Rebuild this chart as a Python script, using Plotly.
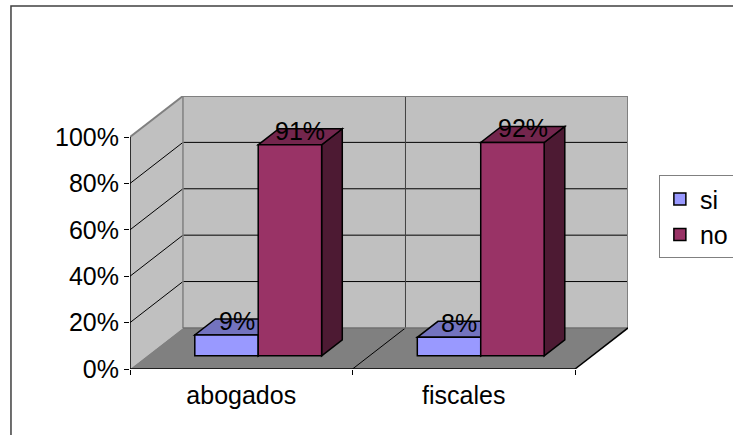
import plotly.graph_objects as go

categories = ["abogados", "fiscales"]
series_names = ["si", "no"]
si_values = [0.09, 0.08]
no_values = [0.91, 0.92]
y_ticks = [0, 0.2, 0.4, 0.6, 0.8, 1.0]

# 3D projection settings (data units)
DX, DY = 0.238, 0.177          # full depth offset of the back wall
FRONT, BACK = 0.32, 0.71       # bar depth span as fraction of full depth
BW = 0.285                      # bar width
FONT = dict(family="Arial, Liberation Sans, sans-serif", size=25, color="black")

front_col = {"si": "#9999FF", "no": "#993366"}
top_col = {"si": "#7373BF", "no": "#73264D"}
side_col = {"si": "#4D4D80", "no": "#4D1A33"}

n = len(categories)
xs = list(range(n))
xl, xr = -0.5, n - 0.5

shapes = []
def poly(pts, fill, line="rgba(0,0,0,0)", width=0, layer="below"):
    d = "M " + " L ".join(f"{x},{y}" for x, y in pts) + " Z"
    shapes.append(dict(type="path", path=d, xref="x", yref="y", fillcolor=fill,
                       line=dict(color=line, width=width), layer=layer))

def seg(x0, y0, x1, y1, color, width=1):
    shapes.append(dict(type="line", x0=x0, y0=y0, x1=x1, y1=y1, xref="x", yref="y",
                       line=dict(color=color, width=width), layer="below"))

ymax = y_ticks[-1]
# walls and floor
poly([(xl, 0), (xl + DX, DY), (xl + DX, ymax + DY), (xl, ymax)], "#C0C0C0")
poly([(xl + DX, DY), (xr + DX, DY), (xr + DX, ymax + DY), (xl + DX, ymax + DY)], "#C0C0C0")
poly([(xl, 0), (xr, 0), (xr + DX, DY), (xl + DX, DY)], "#808080")
# gridlines
for t in y_ticks[1:-1]:
    seg(xl, t, xl + DX, t + DY, "black", 1)
    seg(xl + DX, t + DY, xr + DX, t + DY, "black", 1)
# category separators
for i in range(1, n):
    b = i - 0.5
    seg(b + DX, DY, b + DX, ymax + DY, "#404040", 1)
    seg(b, 0, b + DX, DY, "black", 1)
# wall edges
seg(xl, ymax, xl + DX, ymax + DY, "#808080", 2)
seg(xl + DX, ymax + DY, xr + DX, ymax + DY, "#808080", 2)
seg(xr + DX, DY, xr + DX, ymax + DY, "#808080", 2)
seg(xl + DX, DY, xl + DX, ymax + DY, "#808080", 1.5)
seg(xl + DX, DY, xr + DX, DY, "#707070", 1.5)
# front axis lines
seg(xl, 0, xl, ymax, "black", 1.5)
seg(xl, 0, xr, 0, "black", 1.5)
seg(xr, 0, xr + DX, DY, "black", 1.5)

fig = go.Figure()
annotations = []
f_y = FRONT * DY
ddx = (BACK - FRONT) * DX
ddy = (BACK - FRONT) * DY
mid = (FRONT + BACK) / 2
for name, vals, off in [("si", si_values, -BW), ("no", no_values, 0.0)]:
    o = off + FRONT * DX
    fig.add_trace(go.Bar(
        name=name, x=xs, y=vals, base=[f_y] * n, width=[BW] * n, offset=[o] * n,
        marker=dict(color=front_col[name], line=dict(color="black", width=1.5)),
        hoverinfo="skip"))
    for x, v in zip(xs, vals):
        x0, x1 = x + o, x + o + BW
        top = v + f_y
        poly([(x1, f_y), (x1 + ddx, f_y + ddy), (x1 + ddx, top + ddy), (x1, top)],
             side_col[name], "black", 1.5)
        poly([(x0, top), (x1, top), (x1 + ddx, top + ddy), (x0 + ddx, top + ddy)],
             top_col[name], "black", 1.5)
        annotations.append(dict(x=x + off + BW / 2 + mid * DX, y=v + mid * DY,
                                xref="x", yref="y", text=f"{round(v * 100)}%",
                                showarrow=False, font=FONT, yanchor="middle", yshift=6))

# outer chart frame
shapes.append(dict(type="rect", xref="paper", yref="paper", x0=-0.239, y0=-0.5,
                   x1=1.5, y1=1.33, line=dict(color="#404040", width=1.5),
                   fillcolor="rgba(0,0,0,0)", layer="below"))

fig.update_layout(
    width=733, height=435,
    margin=dict(l=130, r=105, t=96, b=66, autoexpand=False),
    paper_bgcolor="white", plot_bgcolor="rgba(0,0,0,0)",
    barmode="overlay", font=FONT, showlegend=True,
    shapes=shapes, annotations=annotations,
    xaxis=dict(range=[xl, xr + DX], tickvals=xs, ticktext=categories, ticks="",
               showgrid=False, zeroline=False, showline=False, fixedrange=True,
               tickfont=FONT, ticklabelstandoff=9,
               minor=dict(tickvals=[i - 0.5 for i in range(n + 1)], ticks="outside",
                          ticklen=5, tickcolor="black", tickwidth=1, showgrid=False)),
    yaxis=dict(range=[0, ymax + DY], tickvals=y_ticks, tickformat=".0%", ticks="outside",
               ticklen=5, tickcolor="black", showgrid=False, zeroline=False,
               showline=False, tickfont=FONT, fixedrange=True),
    legend=dict(x=1.062, y=0.71, xanchor="left", yanchor="top", font=FONT,
                bgcolor="white", bordercolor="#808080", borderwidth=1,
                traceorder="normal", itemclick=False, itemdoubleclick=False),
)

fig.write_html("out.html")
